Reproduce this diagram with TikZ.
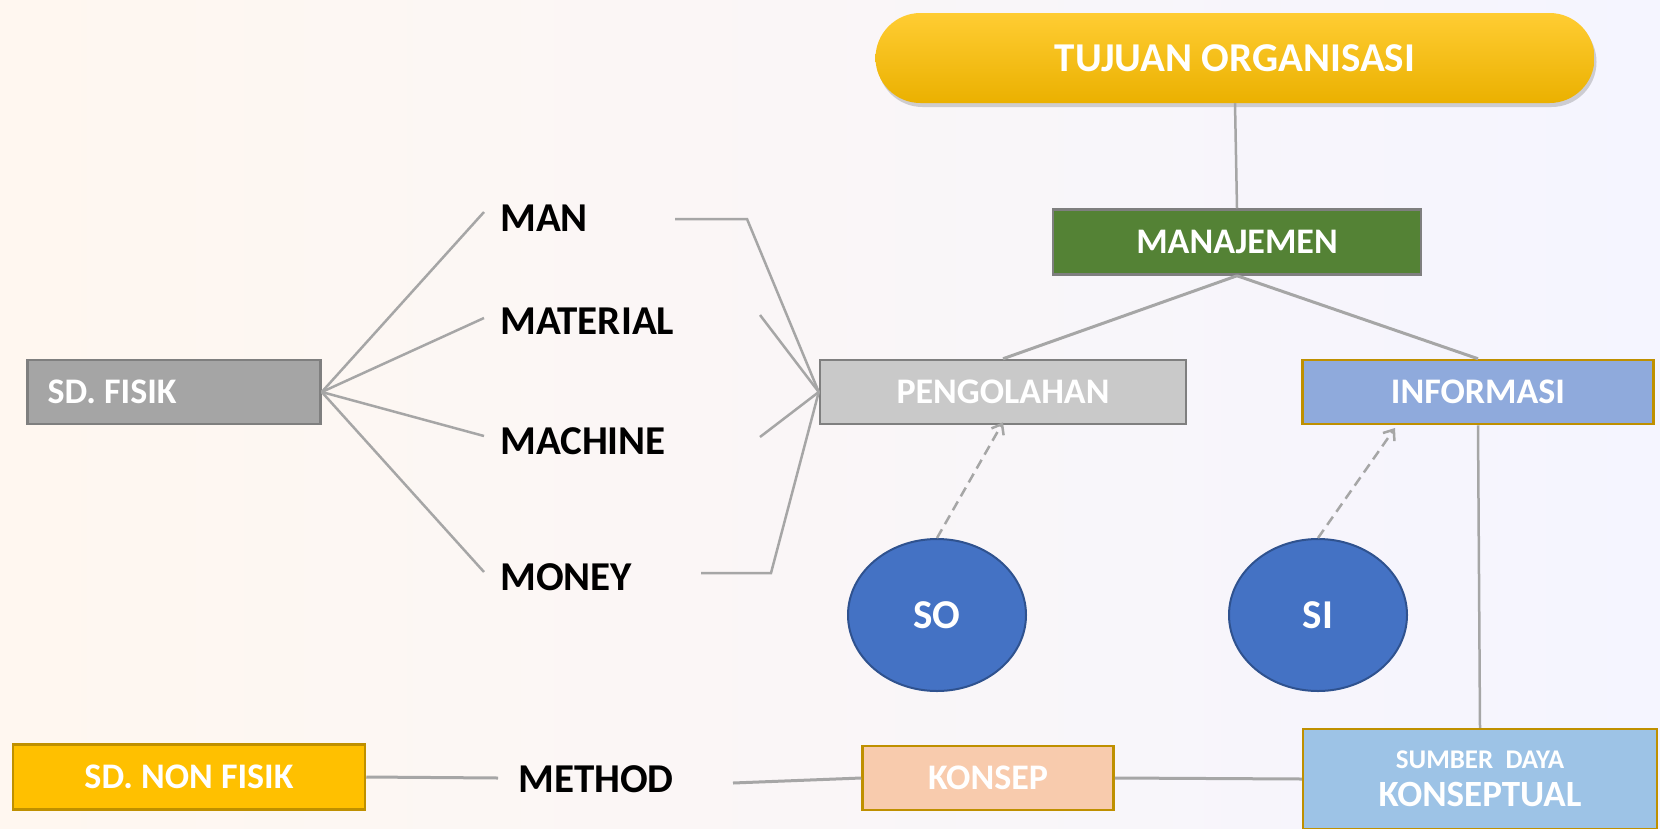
\documentclass[tikz,border=0pt]{standalone}
\usepackage{fontspec}
\setmainfont{Carlito}
\usetikzlibrary{shapes.geometric,arrows.meta,shadows}

\definecolor{linegray}{HTML}{A6A6A6}
\definecolor{goldedge}{HTML}{BF9000}
\definecolor{grayedge}{HTML}{7F7F7F}
\definecolor{mgreen}{HTML}{548235}
\definecolor{lgray}{HTML}{C9C9C9}
\definecolor{dgray}{HTML}{A5A5A5}
\definecolor{infoblue}{HTML}{8FAADC}
\definecolor{sumberblue}{HTML}{9DC3E6}
\definecolor{konsepfill}{HTML}{F8CBAD}
\definecolor{gold}{HTML}{FFC000}
\definecolor{circblue}{HTML}{4472C4}
\definecolor{circedge}{HTML}{2F528F}

\begin{document}
\begin{tikzpicture}[x=1pt,y=-1pt,
    box/.style={draw=grayedge,line width=2.5pt,text=white,inner sep=0pt,minimum height=64pt,
      font=\bfseries\fontsize{36}{40}\selectfont},
    word/.style={anchor=west,inner sep=0pt,font=\bfseries\fontsize{41}{46}\selectfont},
    circ/.style={ellipse,draw=circedge,line width=2pt,fill=circblue,text=white,inner sep=0pt,
      minimum width=178pt,minimum height=152pt,font=\bfseries\fontsize{41}{46}\selectfont},
    link/.style={draw=linegray,line width=2.5pt},
    hint/.style={draw=linegray,line width=2.5pt,dash pattern=on 10pt off 6pt,
      -{Straight Barb[length=9pt,width=14pt]}}]

  % background
  \clip (0,0) rectangle (1660,828);
  \shade[left color=orange!6!white,right color=blue!4!white] (0,0) rectangle (1660,828);

  % top of the tree
  \node[rounded corners=45pt,top color=gold!80!white,bottom color=gold!92!black,
        minimum width=719pt,minimum height=90pt,inner sep=0pt,text=white,
        font=\bfseries\fontsize{41}{46}\selectfont,
        drop shadow={shadow xshift=2pt,shadow yshift=-4pt,opacity=.35}] (tujuan) at (1235,58) {TUJUAN ORGANISASI};
  \node[box,fill=mgreen,minimum width=368pt,minimum height=65pt] (manajemen) at (1237,242) {MANAJEMEN};
  \node[box,fill=lgray,minimum width=366pt] (pengolahan) at (1003,392) {PENGOLAHAN};
  \node[box,fill=infoblue,draw=goldedge,minimum width=351pt] (informasi) at (1478,392) {INFORMASI};

  % physical resources
  \node[box,fill=dgray,text width=253pt,inner xsep=20pt,align=flush left] (sdfisik) at (174,392) {SD. FISIK};
  \foreach \name/\txt/\y in {man/MAN/218, material/MATERIAL/321, machine/MACHINE/441, money/MONEY/577}
    \node[word] (\name) at (500,\y) {\txt};

  % ellipses
  \node[circ] (so) at (937,615) {SO};
  \node[circ] (si) at (1318,615) {SI};

  % bottom row
  \node[box,fill=gold,draw=goldedge,minimum width=352pt,minimum height=65pt] (sdnonfisik) at (189,777) {SD. NON FISIK};
  \node[word] (method) at (518,779) {METHOD};
  \node[box,fill=konsepfill,draw=goldedge,minimum width=251pt] (konsep) at (988,778) {KONSEP};
  \node[box,fill=sumberblue,draw=goldedge,minimum width=354pt,minimum height=100pt,align=center,
        font=\bfseries] (sumber) at (1480,779)
        {\fontsize{27}{30}\selectfont SUMBER\ \ DAYA\\[12pt]\fontsize{37}{42}\selectfont KONSEPTUAL};

  % connectors
  \draw[link] (tujuan.south) -- (manajemen.north);
  \draw[link,line width=3pt] (manajemen.south) -- (pengolahan.north);
  \draw[link,line width=3pt] (manajemen.south) -- (informasi.north);
  \foreach \name/\y in {man/212, material/318, machine/436, money/572} {
    \coordinate (\name-in) at (484,\y);
    \draw[link] (sdfisik.east) -- (\name-in);
  }
  \coordinate (man-out) at (675,219);
  \coordinate (man-bend) at (747,219);
  \coordinate (material-out) at (760,315);
  \coordinate (machine-out) at (760,437);
  \coordinate (money-out) at (701,573);
  \coordinate (money-bend) at (771,573);
  \draw[link] (man-out) -- (man-bend) -- (pengolahan.west);
  \draw[link] (material-out) -- (pengolahan.west);
  \draw[link] (machine-out) -- (pengolahan.west);
  \draw[link] (money-out) -- (money-bend) -- (pengolahan.west);

  \coordinate (si-tip) at (1395,428);
  \draw[hint] (so.north) -- ([yshift=3pt]pengolahan.south);
  \draw[hint] (si.north) -- (si-tip);

  \draw[link] (informasi.south) -- (sumber.north);
  \coordinate (nonfisik-out) at (498,778);
  \coordinate (method-out) at (733,783);
  \draw[link,line width=3pt] (sdnonfisik.east) -- (nonfisik-out);
  \draw[link,line width=3pt] (method-out) -- (konsep.west);
  \draw[link,line width=3pt] (konsep.east) -- (sumber.west);
\end{tikzpicture}
\end{document}
